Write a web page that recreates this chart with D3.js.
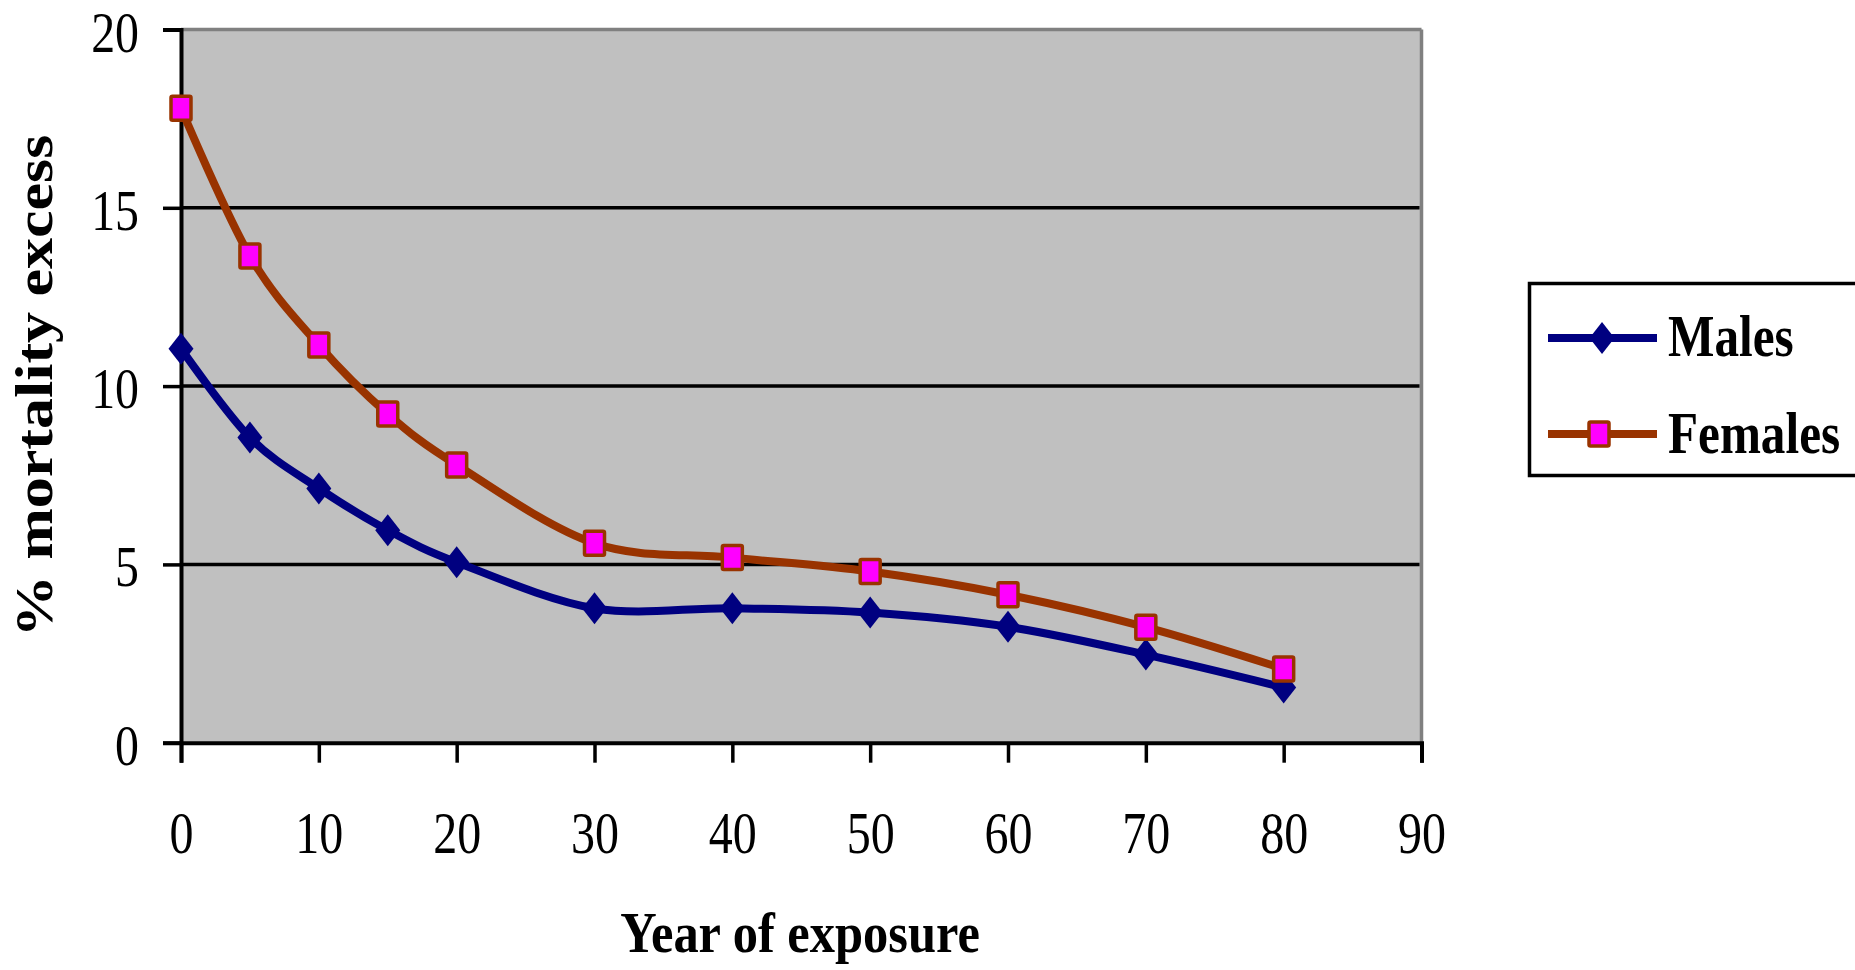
<!DOCTYPE html>
<html>
<head>
<meta charset="utf-8">
<script src="https://cdn.jsdelivr.net/npm/d3@7"></script>
<style>
  html, body { margin: 0; padding: 0; background: #ffffff; }
  svg { display: block; }
  text { font-family: "Liberation Serif", "Times New Roman", serif; fill: #000; }
</style>
</head>
<body>
<svg id="chart" width="1855" height="970"></svg>
<script>
// Years at which the excess mortality was computed
const years = [0, 5, 10, 15, 20, 30, 40, 50, 60, 70, 80];
// % mortality excess by sex
const males   = [11.05, 8.56, 7.13, 5.96, 5.06, 3.77, 3.77, 3.65, 3.25, 2.47, 1.55];
const females = [17.79, 13.65, 11.15, 9.22, 7.79, 5.59, 5.19, 4.80, 4.15, 3.24, 2.07];
// Axis ticks
const xTicks = [0, 10, 20, 30, 40, 50, 60, 70, 80, 90];
const yTicks = [0, 5, 10, 15, 20];
const seriesNames = ["Males", "Females"];

const svg = d3.select("#chart");

const plot = { left: 181, right: 1421.5, top: 29.5, bottom: 742.7 };
const x = d3.scaleLinear().domain([0, 90]).range([plot.left, plot.right]);
const y = d3.scaleLinear().domain([0, 20]).range([plot.bottom, plot.top]);

// Text is drawn slightly condensed horizontally
const SX = 0.8;

// Plot area background
svg.append("rect")
  .attr("x", plot.left).attr("y", plot.top)
  .attr("width", plot.right - plot.left).attr("height", plot.bottom - plot.top)
  .attr("fill", "#c0c0c0");

// Top and right frame (grey)
svg.append("line")
  .attr("x1", plot.left).attr("x2", plot.right)
  .attr("y1", plot.top).attr("y2", plot.top)
  .attr("stroke", "#808080").attr("stroke-width", 3.5);
svg.append("line")
  .attr("x1", plot.right).attr("x2", plot.right)
  .attr("y1", plot.top).attr("y2", plot.bottom)
  .attr("stroke", "#808080").attr("stroke-width", 3.5);

// Horizontal gridlines
svg.append("g")
  .selectAll("line")
  .data(yTicks.filter(v => v > 0 && v < 20))
  .join("line")
  .attr("x1", plot.left).attr("x2", plot.right - 2)
  .attr("y1", d => y(d)).attr("y2", d => y(d))
  .attr("stroke", "#000").attr("stroke-width", 3.5);

// Y axis
const yAxis = d3.axisLeft(y).tickValues(yTicks).tickSize(18).tickPadding(24).tickFormat(d3.format("d"));
const gy = svg.append("g").attr("transform", `translate(${plot.left},0)`).call(yAxis);
gy.select(".domain").attr("stroke", "#000").attr("stroke-width", 4);
gy.selectAll(".tick line").attr("stroke", "#000").attr("stroke-width", 3.5);
gy.selectAll(".tick text")
  .attr("font-family", "Liberation Serif, Times New Roman, serif")
  .attr("font-size", 57)
  .attr("fill", "#000")
  .attr("dy", null)
  .each(function () {
    const t = d3.select(this);
    const xx = +t.attr("x");
    t.attr("x", null).attr("transform", `translate(${xx},21.5) scale(0.84,1)`);
  });

// X axis
const xAxis = d3.axisBottom(x).tickValues(xTicks).tickSize(20).tickPadding(48).tickFormat(d3.format("d"));
const gx = svg.append("g").attr("transform", `translate(0,${plot.bottom})`).call(xAxis);
gx.select(".domain").attr("stroke", "#000").attr("stroke-width", 4);
gx.selectAll(".tick line").attr("stroke", "#000").attr("stroke-width", 3.5);
gx.selectAll(".tick text")
  .attr("font-family", "Liberation Serif, Times New Roman, serif")
  .attr("font-size", 60)
  .attr("fill", "#000")
  .attr("dy", null)
  .each(function () {
    const t = d3.select(this);
    t.attr("y", null).attr("transform", `translate(0,110) scale(${SX},1)`);
  });

// Series lines (smoothed)
const line = d3.line()
  .x(d => x(d[0]))
  .y(d => y(d[1]))
  .curve(d3.curveCardinal.tension(0));

const maleData = years.map((yr, i) => [yr, males[i]]);
const femaleData = years.map((yr, i) => [yr, females[i]]);

const colors = { male: "#000080", female: "#993300", femaleFill: "#ff00ff" };

const diamond = (cx, cy) => `M${cx},${cy - 16}L${cx + 12.5},${cy}L${cx},${cy + 16}L${cx - 12.5},${cy}Z`;

// Males
svg.append("path")
  .datum(maleData)
  .attr("d", line)
  .attr("fill", "none")
  .attr("stroke", colors.male)
  .attr("stroke-width", 8)
  .attr("stroke-linejoin", "round");
svg.append("g")
  .selectAll("path")
  .data(maleData)
  .join("path")
  .attr("d", d => diamond(x(d[0]), y(d[1])))
  .attr("fill", colors.male);

// Females
svg.append("path")
  .datum(femaleData)
  .attr("d", line)
  .attr("fill", "none")
  .attr("stroke", colors.female)
  .attr("stroke-width", 8)
  .attr("stroke-linejoin", "round");
svg.append("g")
  .selectAll("rect")
  .data(femaleData)
  .join("rect")
  .attr("x", d => x(d[0]) - 10)
  .attr("y", d => y(d[1]) - 12)
  .attr("width", 20)
  .attr("height", 24)
  .attr("rx", 1.5)
  .attr("fill", colors.femaleFill)
  .attr("stroke", colors.female)
  .attr("stroke-width", 3.5);

// Axis titles
svg.append("text")
  .attr("transform", `translate(800,952) scale(0.87,1)`)
  .attr("text-anchor", "middle")
  .attr("font-size", 58)
  .attr("font-weight", "bold")
  .text("Year of exposure");

svg.append("text")
  .attr("transform", `translate(52,386) scale(0.86,1) rotate(-90)`)
  .attr("text-anchor", "middle")
  .attr("font-size", 62)
  .attr("font-weight", "bold")
  .text("% mortality excess");

// Legend
const legend = svg.append("g");
legend.append("rect")
  .attr("x", 1529.5).attr("y", 283.5)
  .attr("width", 400).attr("height", 192)
  .attr("fill", "#fff")
  .attr("stroke", "#000")
  .attr("stroke-width", 3.5);

const legendRows = [
  { name: seriesNames[0], cy: 338, color: colors.male, base: 356 },
  { name: seriesNames[1], cy: 434, color: colors.female, base: 453 }
];
legendRows.forEach((r, i) => {
  legend.append("line")
    .attr("x1", 1548).attr("x2", 1657)
    .attr("y1", r.cy).attr("y2", r.cy)
    .attr("stroke", r.color).attr("stroke-width", 8);
  if (i === 0) {
    legend.append("path").attr("d", diamond(1602, r.cy)).attr("fill", colors.male);
  } else {
    legend.append("rect")
      .attr("x", 1599 - 10).attr("y", r.cy - 12)
      .attr("width", 20).attr("height", 24).attr("rx", 1.5)
      .attr("fill", colors.femaleFill)
      .attr("stroke", colors.female).attr("stroke-width", 3.5);
  }
  legend.append("text")
    .attr("transform", `translate(1668,${r.base}) scale(0.82,1)`)
    .attr("font-size", 60)
    .attr("font-weight", "bold")
    .text(r.name);
});
</script>
</body>
</html>
